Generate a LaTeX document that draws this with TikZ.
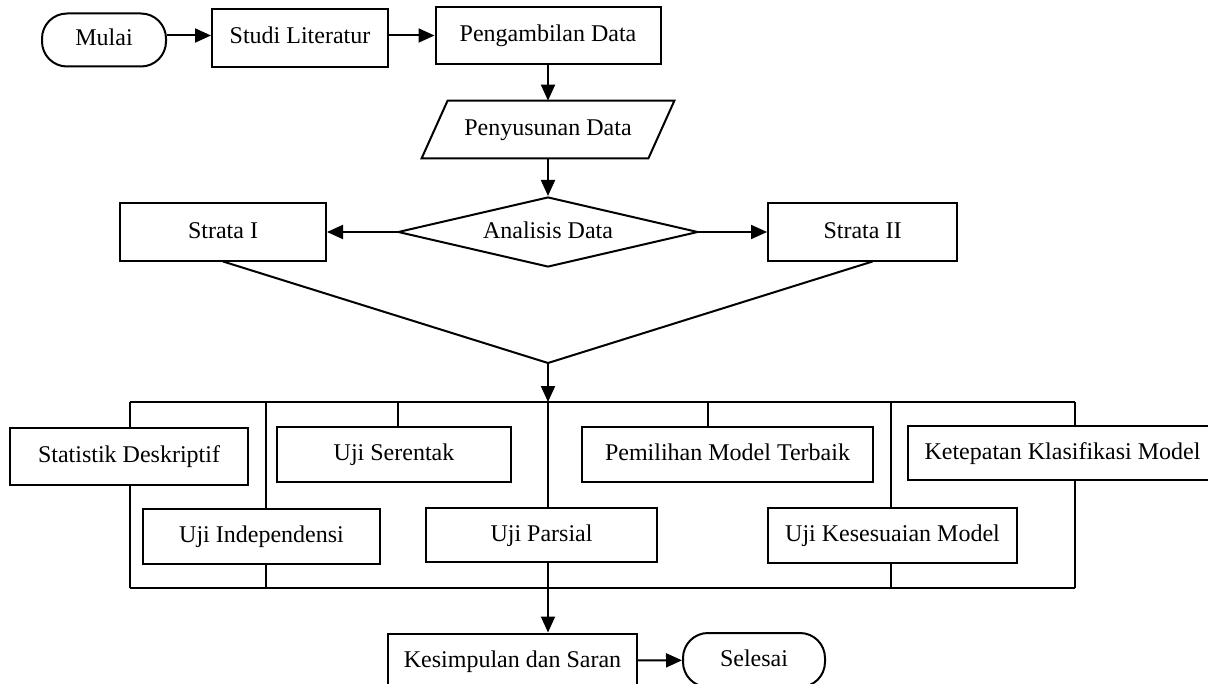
\documentclass[tikz,border=0pt]{standalone}
\usepackage{fontspec}
\setmainfont{Liberation Serif}
\usetikzlibrary{arrows.meta,shapes.geometric}

\begin{document}
\begin{tikzpicture}[x=0.5pt,y=-0.5pt,font=\fontsize{12}{14}\selectfont,
    line/.style={draw, -{Triangle[length=8pt,width=7pt]}, line width=1pt},
    wire/.style={draw, line width=1pt},
    proses/.style={draw, line width=1pt, inner sep=0pt, text height=7.5pt, text depth=1.5pt},
    terminal/.style={proses, rounded corners=12.5pt},
    io/.style={inner sep=0pt, text height=7.5pt, text depth=1.5pt},
    keputusan/.style={proses, diamond, aspect=4.3},
    ]
    \useasboundingbox (0,0) rectangle (1208,684);

    % Place nodes
    \node [terminal, minimum width=62pt, minimum height=26.5pt] (mulai) at (104,40) {Mulai};
    \node [proses, minimum width=88pt, minimum height=29pt] (studi) at (300,38) {Studi Literatur};
    \node [proses, minimum width=112.5pt, minimum height=28.5pt] (ambil) at (548,35.5) {Pengambilan Data};
    \node [io, minimum width=113pt, minimum height=28.5pt] (susun) at (548,129.5) {Penyusunan Data};
    \node [keputusan, minimum width=150pt, minimum height=35pt] (analisis) at (548,232) {Analisis Data};
    \node [proses, minimum width=103pt, minimum height=28.5pt] (strata1) at (223,232) {Strata I};
    \node [proses, minimum width=94.5pt, minimum height=28.5pt] (strata2) at (862.5,232) {Strata II};

    \node [proses, minimum width=119pt, minimum height=28.5pt] (stat) at (129,456.5) {Statistik Deskriptif};
    \node [proses, minimum width=117pt, minimum height=27.5pt] (seren) at (394,454.5) {Uji Serentak};
    \node [proses, minimum width=145.5pt, minimum height=27.5pt] (pilih) at (727.5,454.5) {Pemilihan Model Terbaik};
    \node [proses, minimum width=154.5pt, minimum height=27pt] (tepat) at (1062.5,453) {Ketepatan Klasifikasi Model};
    \node [proses, minimum width=118.5pt, minimum height=27.5pt] (indep) at (261.5,536.5) {Uji Independensi};
    \node [proses, minimum width=115.5pt, minimum height=27pt] (parsial) at (541.5,535) {Uji Parsial};
    \node [proses, minimum width=124.5pt, minimum height=27.5pt] (sesuai) at (892.5,535.5) {Uji Kesesuaian Model};

    \node [proses, minimum width=124.5pt, minimum height=27.5pt] (simpul) at (512.5,661) {Kesimpulan dan Saran};
    \node [terminal, minimum width=71pt, minimum height=27pt] (selesai) at (754,660) {Selesai};

    % Parallelogram outline
    \path [wire] ([xshift=6.5pt]susun.north west) -- ([xshift=6.5pt]susun.north east)
      -- ([xshift=-6.5pt]susun.south east) -- ([xshift=-6.5pt]susun.south west) -- cycle;

    % Bus points
    \coordinate (gabung) at (548,363);
    \coordinate (atas1) at (130,402);
    \coordinate (atas2) at (1075,402);
    \coordinate (bawah1) at (130,588);
    \coordinate (bawah2) at (1075,588);

    % Draw edges
    \path [line] (mulai.east |- ambil) -- (studi.west |- ambil);
    \path [line] (studi.east |- ambil) -- (ambil.west);
    \path [line] (ambil) -- (susun);
    \path [line] (susun) -- (analisis);
    \path [line] (analisis.west) -- (strata1.east);
    \path [line] (analisis.east) -- (strata2.west);

    \path [wire] (strata1.south) -- (gabung) -- ([xshift=5pt]strata2.south);

    \path [wire] (atas1) -- (atas2);
    \path [wire] (bawah1) -- (bawah2);

    \foreach \x/\n in {130/stat, 266/indep, 398/seren, 548/parsial, 708/pilih, 891/sesuai, 1075/tepat} {
      \coordinate (a\n) at (\x,402);
      \path [wire] (a\n) -- (a\n |- \n.north);
    }
    \foreach \x/\n in {130/stat, 266/indep, 548/parsial, 891/sesuai, 1075/tepat} {
      \coordinate (b\n) at (\x,588);
      \path [wire] (b\n |- \n.south) -- (b\n);
    }

    \path [line] (gabung) -- (aparsial);
    \path [line] (bparsial) -- (bparsial |- simpul.north);
    \path [line] (simpul) -- (selesai);
\end{tikzpicture}
\end{document}
